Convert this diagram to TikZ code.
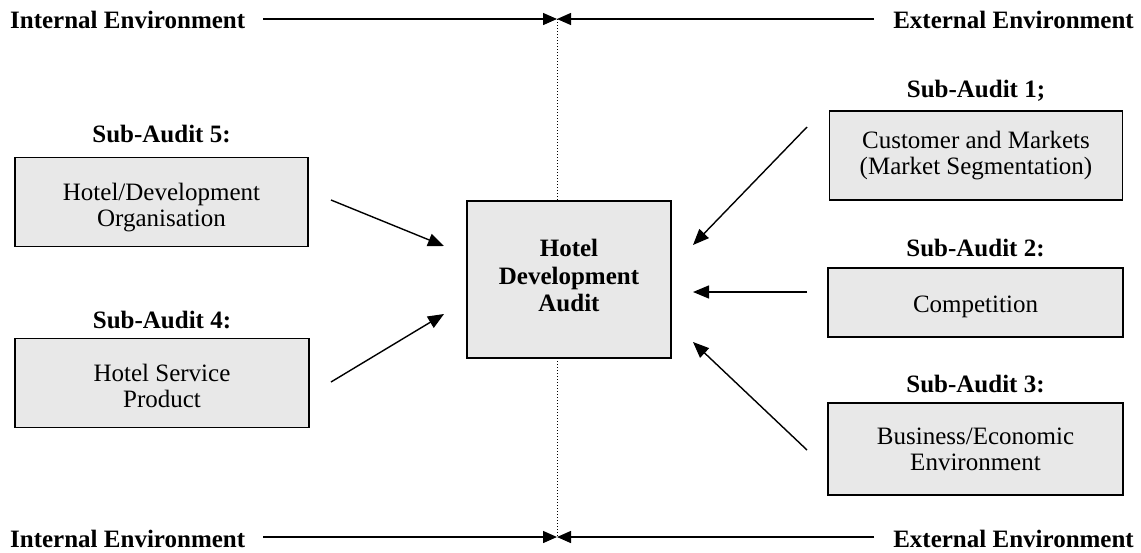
\documentclass[tikz,border=0pt]{standalone}
\usepackage{fontspec}
\setmainfont{Liberation Serif}
\usetikzlibrary{arrows.meta}
\definecolor{boxgray}{RGB}{232,232,232}
\begin{document}
\begin{tikzpicture}[x=1pt,y=-1pt,
  box/.style={draw, line width=1.8pt, fill=boxgray, inner sep=0pt},
  boxtext/.style={align=center, inner sep=0pt, font=\fontsize{25}{26}\selectfont},
  maintext/.style={align=center, inner sep=0pt, font=\fontsize{25}{27.5}\selectfont\bfseries},
  sublabel/.style={anchor=base, inner sep=0pt, font=\fontsize{25}{26}\selectfont\bfseries},
  envlabel/.style={inner sep=0pt, font=\fontsize{25}{26}\selectfont\bfseries},
  envline/.style={line width=1.4pt, -{Triangle[length=14pt,width=12pt]}},
  flow/.style={line width=1.4pt, -{Triangle[length=16pt,width=13pt]}},
  divider/.style={line width=1pt, dash pattern=on 1pt off 2pt}
]
\useasboundingbox (0,0) rectangle (1141,552);

% environment axis
\coordinate (topmid) at (557,19);
\coordinate (botmid) at (557,537);
\coordinate (topL) at (263,19);
\coordinate (topR) at (874,19);
\coordinate (botL) at (263,537);
\coordinate (botR) at (874,537);
\draw[divider] (topmid) -- (botmid);
\draw[envline] (topL) -- (topmid);
\draw[envline] (topR) -- (topmid);
\draw[envline] (botL) -- (botmid);
\draw[envline] (botR) -- (botmid);
\node[envlabel, anchor=base west] (intT) at (10,28) {Internal Environment};
\node[envlabel, anchor=base east] (extT) at (1134,28) {External Environment};
\node[envlabel, anchor=base west] (intB) at (10,547) {Internal Environment};
\node[envlabel, anchor=base east] (extB) at (1134,547) {External Environment};

% boxes
\node[box, minimum width=204pt, minimum height=157pt] (hda) at (569,279.5) {};
\node[maintext] (hdat) at ([yshift=4pt]hda.center) {Hotel\\Development\\Audit};

\node[box, minimum width=293pt, minimum height=89pt] (s5) at (161.5,202) {};
\node[boxtext] (s5t) at ([yshift=-6pt]s5.center) {Hotel/Development\\Organisation};
\node[box, minimum width=294pt, minimum height=89pt] (s4) at (162,383) {};
\node[boxtext] (s4t) at ([yshift=-3pt]s4.center) {Hotel Service\\Product};
\node[box, minimum width=293pt, minimum height=89pt] (s1) at (976,155.5) {};
\node[boxtext] (s1t) at (s1.center) {Customer and Markets\\(Market Segmentation)};
\node[box, minimum width=295pt, minimum height=69pt] (s2) at (975.5,302.5) {};
\node[boxtext] (s2t) at ([yshift=-4pt]s2.center) {Competition};
\node[box, minimum width=295pt, minimum height=92pt] (s3) at (975.5,449) {};
\node[boxtext] (s3t) at (s3.center) {Business/Economic\\Environment};

\node[sublabel] (l5) at (161.5,142) {Sub-Audit 5:};
\node[sublabel] (l4) at (162,328) {Sub-Audit 4:};
\node[sublabel] (l1) at (976,97) {Sub-Audit 1;};
\node[sublabel] (l2) at (975.5,256) {Sub-Audit 2:};
\node[sublabel] (l3) at (975.5,392) {Sub-Audit 3:};

% flows
\coordinate (a5s) at (331,200);  \coordinate (a5e) at (444,246);
\coordinate (a4s) at (331,382);  \coordinate (a4e) at (444,314);
\coordinate (a1s) at (807,127);  \coordinate (a1e) at (693,245);
\coordinate (a2s) at (807,292);  \coordinate (a2e) at (693,292);
\coordinate (a3s) at (807,450);  \coordinate (a3e) at (693,342);
\draw[flow] (a5s) -- (a5e);
\draw[flow] (a4s) -- (a4e);
\draw[flow] (a1s) -- (a1e);
\draw[flow] (a2s) -- (a2e);
\draw[flow] (a3s) -- (a3e);
\end{tikzpicture}
\end{document}
